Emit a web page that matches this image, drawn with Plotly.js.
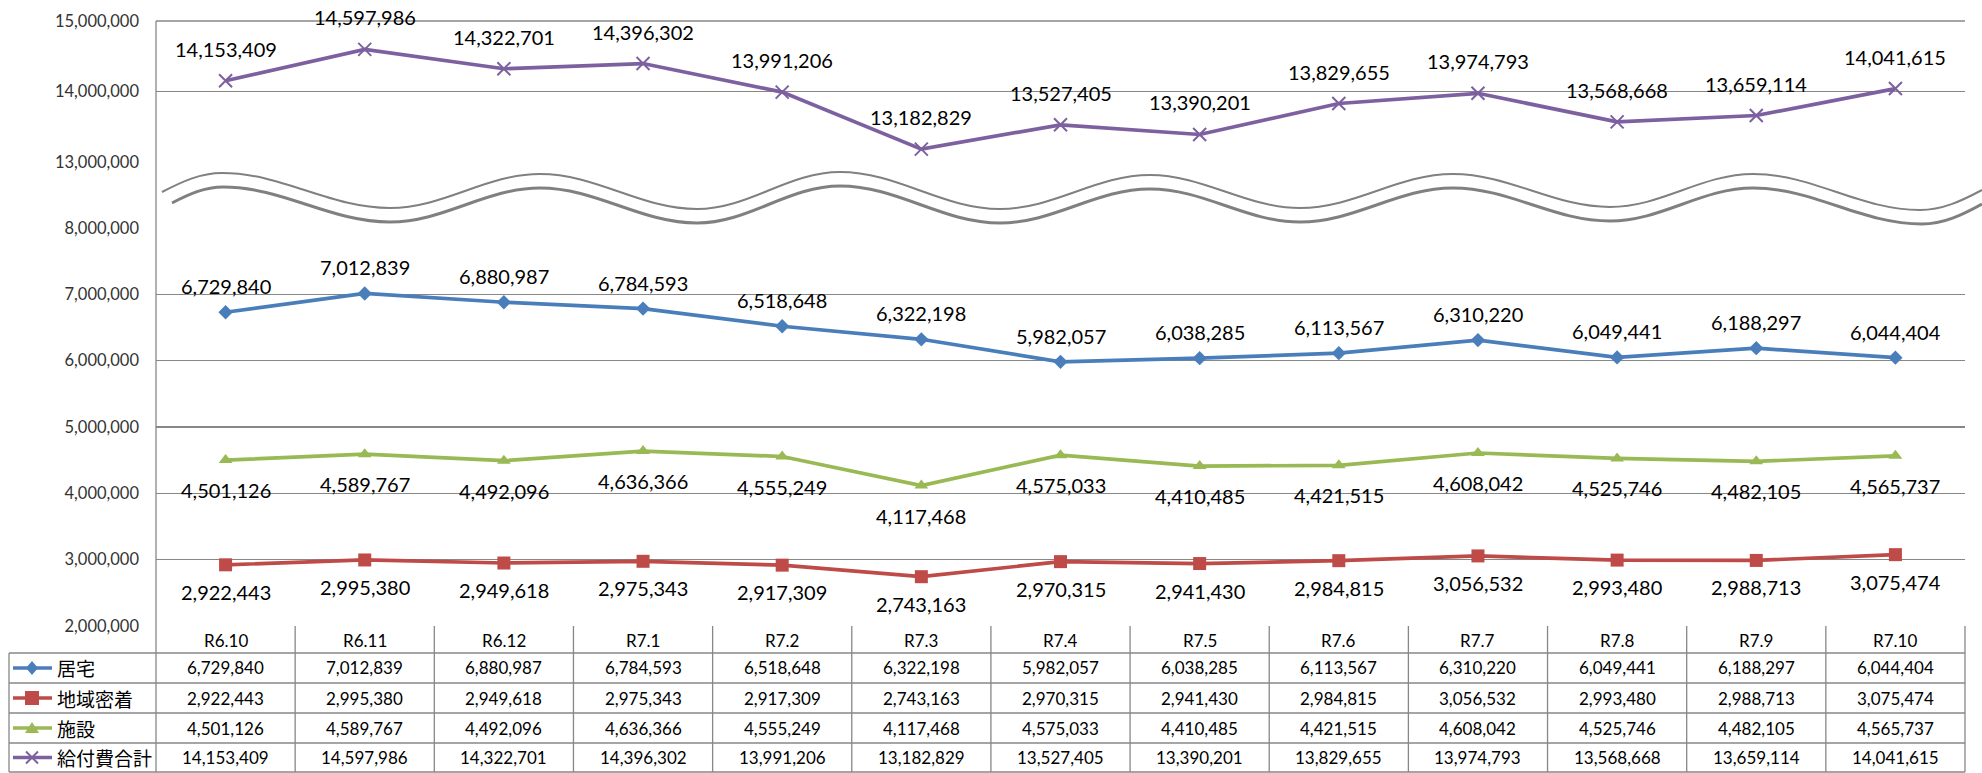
<!DOCTYPE html>
<html><head><meta charset="utf-8">
<script src="https://cdn.plot.ly/plotly-3.0.1.min.js"></script>
<style>html,body{margin:0;padding:0;background:#fff;} #chart{width:1982px;height:773px;}</style>
</head><body><div id="chart"></div>
<script>
// ---- data ----
const categories = ['R6.10','R6.11','R6.12','R7.1','R7.2','R7.3','R7.4','R7.5','R7.6','R7.7','R7.8','R7.9','R7.10'];
const kyotaku  = [6729840,7012839,6880987,6784593,6518648,6322198,5982057,6038285,6113567,6310220,6049441,6188297,6044404];
const chiiki   = [2922443,2995380,2949618,2975343,2917309,2743163,2970315,2941430,2984815,3056532,2993480,2988713,3075474];
const shisetsu = [4501126,4589767,4492096,4636366,4555249,4117468,4575033,4410485,4421515,4608042,4525746,4482105,4565737];
const total    = [14153409,14597986,14322701,14396302,13991206,13182829,13527405,13390201,13829655,13974793,13568668,13659114,14041615];
const seriesNames = ['居宅','地域密着','施設','給付費合計'];
const lowerTicks = [2000000,3000000,4000000,5000000,6000000,7000000,8000000];
const upperTicks = [13000000,14000000,15000000];

// ---- layout helpers ----
const FONT = 'Lato, "Noto Sans CJK JP", sans-serif';
const CJK = '"Noto Sans CJK JP", sans-serif';
const L=156, R=1965, T=21, B=626;
const px = X => (X-L)/(R-L);
const py = Y => (B-Y)/(B-T);
const fmt = v => String(v).replace(/\B(?=(\d{3})+(?!\d))/g, ',');
const GRID = '#878787';

const series = [
  {name: seriesNames[0], y: kyotaku,  color:'#4A7EBB', symbol:'diamond',      size:11, axis:'y',  shift: 26},
  {name: seriesNames[1], y: chiiki,   color:'#BE4B48', symbol:'square',       size:13, axis:'y',  shift:-27},
  {name: seriesNames[2], y: shisetsu, color:'#98B954', symbol:'triangle-up',  size:12, axis:'y',  shift:-30},
  {name: seriesNames[3], y: total,    color:'#7D60A0', symbol:'x-thin-open',  size:13, axis:'y2', shift: 32},
];

const traces = series.map(s => ({
  type:'scatter', mode:'lines+markers', name:s.name, x:categories, y:s.y,
  yaxis: s.axis, xaxis:'x', cliponaxis:false, hoverinfo:'skip',
  line:{color:s.color, width:3.7},
  marker:{symbol:s.symbol, size:s.size, color:s.color, line:{color:s.color, width: s.symbol.startsWith('x') ? 2 : 0}}
}));

const annotations = [];
const shapes = [];

// data labels
series.forEach(s => {
  s.y.forEach((v,i) => {
    annotations.push({x:categories[i], y:v, xref:'x', yref:s.axis, text:fmt(v), showarrow:false,
      xanchor:'center', yanchor:'middle',
      yshift:s.shift, font:{family:FONT, size:20, color:'#000'}});
  });
});

// axis line (left)
shapes.push({type:'line', xref:'paper', yref:'paper', x0:0, x1:0, y0:0, y1:1, line:{color:GRID, width:1.3}});

// wave (axis break)
function wavePath(pts){
  let d = 'M' + px(pts[0][0]) + ',' + py(pts[0][1]);
  for(let k=1;k<pts.length;k++){
    const [x0,y0] = pts[k-1], [x1,y1] = pts[k];
    const dx = x1-x0, dy = y1-y0;
    let c1 = [x0+0.36*dx, y0], c2 = [x1-0.36*dx, y1];
    if(k===1){ c1 = [x0+dx/3, y0+0.55*dy]; }
    if(k===pts.length-1){ c2 = [x1-dx/3, y1-0.55*dy]; }
    d += ' C' + px(c1[0]) + ',' + py(c1[1]) + ' ' + px(c2[0]) + ',' + py(c2[1]) + ' ' + px(x1) + ',' + py(y1);
  }
  return d;
}
const waveUpper = [[162,192],[222,173],[390,208],[540,174],[697,209],[840,172],[1000,209],[1150,175],[1300,208],[1453,174],[1610,207],[1753,174],[1920,210],[1982,190]];
const waveLower = [[172,203],[223,187],[390,222],[540,188],[697,223],[840,186],[1000,223],[1150,189],[1300,222],[1453,188],[1610,221],[1753,188],[1922,224],[1982,204]];
shapes.push({type:'path', xref:'paper', yref:'paper', path:wavePath(waveUpper), line:{color:'#808080', width:2}});
shapes.push({type:'path', xref:'paper', yref:'paper', path:wavePath(waveLower), line:{color:'#808080', width:3}});

// top gridline (15,000,000) drawn explicitly so it is never dropped at the domain edge
shapes.push({type:'line', xref:'paper', yref:'paper', x0:0, x1:1, y0:1, y1:1, line:{color:GRID, width:1.3}});

// data table
const rowEdges = [653,683,713,743,772];
const TL = 9;
const nCol = categories.length;
rowEdges.forEach(Y => shapes.push({type:'line', xref:'paper', yref:'paper', x0:px(TL), x1:1, y0:py(Y), y1:py(Y), line:{color:GRID, width:1.3}}));
for(let i=0;i<=nCol;i++){
  shapes.push({type:'line', xref:'paper', yref:'paper', x0:i/nCol, x1:i/nCol, y0:py(B), y1:py(772), line:{color:GRID, width:1.3}});
}
shapes.push({type:'line', xref:'paper', yref:'paper', x0:px(TL), x1:px(TL), y0:py(653), y1:py(772), line:{color:GRID, width:1.3}});

// header
categories.forEach(c => annotations.push({x:c, xref:'x', y:py(640), yref:'paper', text:c, showarrow:false,
  xanchor:'center', yanchor:'middle', font:{family:FONT, size:17, color:'#000'}}));
// rows
series.forEach((s,r) => {
  const yc = (rowEdges[r]+rowEdges[r+1])/2;
  s.y.forEach((v,i) => annotations.push({x:categories[i], xref:'x', y:py(yc), yref:'paper', text:fmt(v), showarrow:false,
    xanchor:'center', yanchor:'middle', font:{family:FONT, size:17, color:'#000'}}));
  annotations.push({x:px(55), xref:'paper', xanchor:'left', yanchor:'middle', y:py(yc), yref:'paper', text:s.name, showarrow:false,
    font:{family:CJK, size:19, color:'#000'}});
  // legend key
  shapes.push({type:'line', xref:'paper', yref:'paper', x0:px(13), x1:px(52), y0:py(yc), y1:py(yc), line:{color:s.color, width:3.5}});
  const cx = 32;
  const poly = pts => 'M' + pts.map(p => px(p[0]) + ',' + py(p[1])).join(' L') + ' Z';
  if(s.symbol==='diamond'){
    shapes.push({type:'path', xref:'paper', yref:'paper', path:poly([[cx,yc-7],[cx+6,yc],[cx,yc+7],[cx-6,yc]]), fillcolor:s.color, line:{width:0}});
  } else if(s.symbol==='square'){
    shapes.push({type:'path', xref:'paper', yref:'paper', path:poly([[cx-7,yc-7],[cx+7,yc-7],[cx+7,yc+7],[cx-7,yc+7]]), fillcolor:s.color, line:{width:0}});
  } else if(s.symbol==='triangle-up'){
    shapes.push({type:'path', xref:'paper', yref:'paper', path:poly([[cx,yc-6],[cx+7,yc+5],[cx-7,yc+5]]), fillcolor:s.color, line:{width:0}});
  } else {
    shapes.push({type:'line', xref:'paper', yref:'paper', x0:px(cx-6), x1:px(cx+6), y0:py(yc-6), y1:py(yc+6), line:{color:s.color, width:2}});
    shapes.push({type:'line', xref:'paper', yref:'paper', x0:px(cx-6), x1:px(cx+6), y0:py(yc+6), y1:py(yc-6), line:{color:s.color, width:2}});
  }
});

const tickFont = {family:FONT, size:16.5, color:'#333333'};
const layout = {
  width:1982, height:773,
  margin:{l:L, r:1982-R, t:T, b:773-B, pad:0},
  paper_bgcolor:'#fff', plot_bgcolor:'#fff', showlegend:false,
  xaxis:{type:'category', range:[-0.5, nCol-0.5], showticklabels:false, showgrid:false, zeroline:false, showline:false, ticks:''},
  yaxis:{domain:[0, py(228)], range:[2000000, 8000000], tickvals:lowerTicks, tickformat:',', showgrid:true, gridcolor:GRID, gridwidth:1.3,
    zeroline:false, showline:false, ticks:'', ticklabelstandoff:16, tickfont:tickFont},
  yaxis2:{domain:[py(162), 1], range:[13000000, 15000000], tickvals:upperTicks, tickformat:',', showgrid:true, gridcolor:GRID, gridwidth:1.3,
    zeroline:false, showline:false, ticks:'', ticklabelstandoff:16, tickfont:tickFont, anchor:'x'},
  shapes: shapes,
  annotations: annotations
};
Plotly.newPlot('chart', traces, layout, {displayModeBar:false, staticPlot:true});
</script>
</body></html>
